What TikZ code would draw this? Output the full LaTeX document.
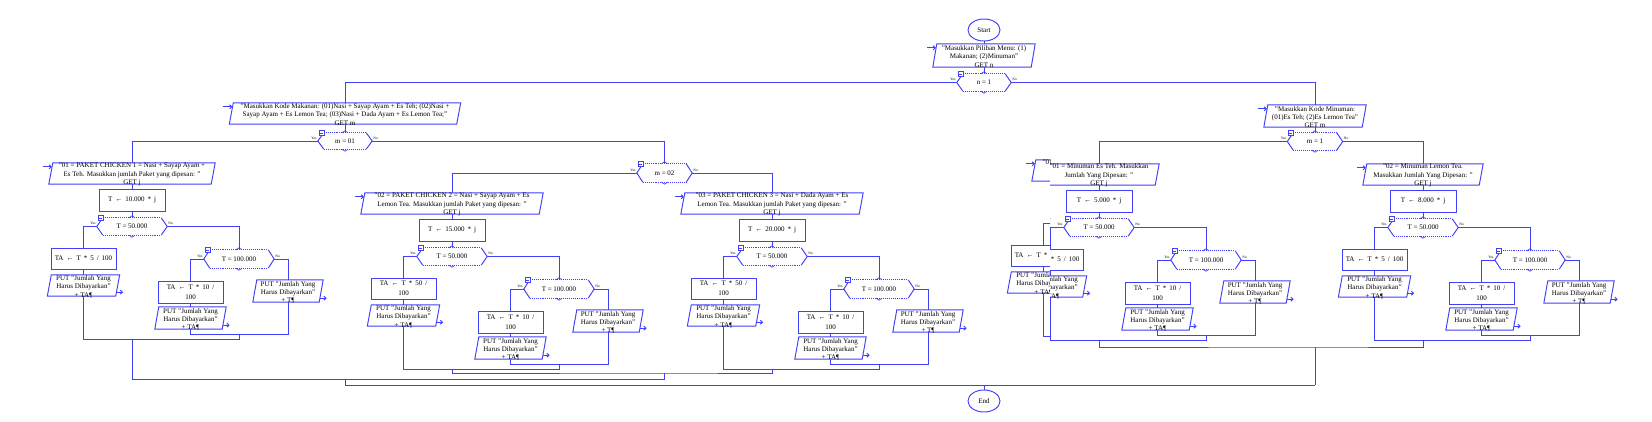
\documentclass[tikz,border=0pt]{standalone}
\usepackage{fontspec}
\setmainfont{Liberation Serif}
\usetikzlibrary{shapes.geometric,arrows.meta,calc}
\definecolor{fc}{RGB}{64,64,250}
\newcommand\fsn{\fontsize{7}{8.2}\selectfont}
\newcommand\fsbx{\fontsize{7}{10}\selectfont\spaceskip=3pt\relax}
\newcommand\fstn{\fontsize{3.6}{4}\selectfont}
\tikzset{
 ln/.style={draw=fc, line width=0.95pt},
 sh/.style={draw=fc, line width=0.95pt, fill=white},
 boxn/.style={sh, rectangle, inner sep=0pt, align=center, font=\fsbx},
 ghost/.style={rectangle, inner sep=0pt, draw=none},
 txt/.style={inner sep=0pt, align=center, font=\fsn},
 ylab/.style={inner sep=0pt, font=\fstn},
 arr/.style={ln, -{Straight Barb[length=2.2pt,width=4pt]}},
}
\newcommand\hexd[1]{%
 \draw[ln] ([xshift=6pt]#1.north west) -- (#1.west) -- ([xshift=6pt]#1.south west);
 \draw[ln] ([xshift=-6pt]#1.north east) -- (#1.east) -- ([xshift=-6pt]#1.south east);
 \draw[ln, densely dotted] ([xshift=6pt]#1.north west) -- ([xshift=-6pt]#1.north east);
 \draw[ln, densely dotted] ([xshift=6pt]#1.south west) -- ([xshift=-6pt]#1.south east);
 \draw[ln, line width=0.7pt] ([xshift=-3pt]#1.south) -- ([yshift=-2pt]#1.south) -- ([xshift=3pt]#1.south);
 \draw[ln, line width=0.7pt] ([xshift=-3pt]#1.north) -- ([yshift=2pt]#1.north) -- ([xshift=3pt]#1.north);
 \draw[ln, line width=0.6pt, fill=white] ([xshift=1pt,yshift=-2.5pt]#1.north west) rectangle ([xshift=6pt,yshift=2.5pt]#1.north west);
 \draw[ln, line width=0.5pt] ([xshift=2pt]#1.north west) -- ([xshift=5pt]#1.north west);
 \node[ylab, anchor=south east] (#1-yes) at ([xshift=-1pt,yshift=1.5pt]#1.west) {Yes};
 \node[ylab, anchor=south west] (#1-no) at ([xshift=1pt,yshift=1.5pt]#1.east) {No};
}
\newcommand\pard[1]{%
 \draw[sh] ([xshift=-2pt]#1.south west) -- ([xshift=2pt]#1.north west) -- ([xshift=2pt]#1.north east) -- ([xshift=-2pt]#1.south east) -- cycle;}
\newcommand\inarr[1]{\draw[arr] ([xshift=-8pt,yshift=-4pt]#1.north west) -- ([xshift=1.2pt,yshift=-4pt]#1.north west);}
\newcommand\outarr[1]{\draw[arr] ([xshift=-1.2pt,yshift=4pt]#1.south east) -- ([xshift=5.5pt,yshift=4pt]#1.south east);}
\newcommand\subtree[7]{%
 \node[ghost, minimum width=#4pt, minimum height=21pt] (#1par) at ({#2},{#3+10.5}) {};
 \pard{#1par}\inarr{#1par}
 \node[txt] (#1part) at ([yshift=-1pt]#1par.center) {#5};
 \node[boxn, minimum width=66pt, minimum height=22pt] (#1T) at ({#2},{#3+37}) {#6};
 \node[ghost, minimum width=70pt, minimum height=17pt, font=\fsn] (#1ha) at ({#2},{#3+63.5}) {T = 50.000};
 \hexd{#1ha}
 \node[boxn, minimum width=65pt, minimum height=21pt] (#1ta) at ({#2-48.5},{#3+95.5}) {#7};
 \node[ghost, minimum width=68pt, minimum height=21pt] (#1pa) at ({#2-48.5},{#3+122.5}) {};
 \pard{#1pa}\outarr{#1pa}
 \node[txt] (#1pat) at ([yshift=-1.5pt]#1pa.center) {PUT "Jumlah Yang\\Harus Dibayarkan"\\+ TA¶};
 \node[ghost, minimum width=70pt, minimum height=18pt, font=\fsn] (#1hb) at ({#2+107},{#3+96}) {T = 100.000};
 \hexd{#1hb}
 \node[boxn, minimum width=65pt, minimum height=22pt] (#1tb) at ({#2+58.5},{#3+129}) {TA ← T * 10 /\\100};
 \node[ghost, minimum width=67pt, minimum height=22pt] (#1pb) at ({#2+58.5},{#3+155}) {};
 \pard{#1pb}\outarr{#1pb}
 \node[txt] (#1pbt) at ([yshift=-1.5pt]#1pb.center) {PUT "Jumlah Yang\\Harus Dibayarkan"\\+ TA¶};
 \node[ghost, minimum width=66pt, minimum height=22pt] (#1pc) at ({#2+156},{#3+128}) {};
 \pard{#1pc}\outarr{#1pc}
 \node[txt] (#1pct) at ([yshift=-1.5pt]#1pc.center) {PUT "Jumlah Yang\\Harus Dibayarkan"\\+ T¶};
 \coordinate (#1mi) at ({#2+107},{#3+171});
 \coordinate (#1mo) at ({#2},{#3+176});
 \draw[ln] (#1par.south) -- (#1T.north);
 \draw[ln] (#1T.south) -- (#1ha.north);
 \draw[ln] (#1ha.west) -| (#1ta.north);
 \draw[ln] (#1ta.south) -- (#1pa.north);
 \draw[ln] (#1pa.south) |- (#1mi |- #1mo) -- (#1mi);
 \draw[ln] (#1ha.east) -| (#1hb.north);
 \draw[ln] (#1hb.west) -| (#1tb.north);
 \draw[ln] (#1tb.south) -- (#1pb.north);
 \draw[ln] (#1pb.south) |- (#1mi);
 \draw[ln] (#1hb.east) -| (#1pc.north);
 \draw[ln] (#1pc.south) |- (#1mi);
}
\begin{document}
\begin{tikzpicture}[x=1pt,y=-1pt]
\useasboundingbox (0,0) rectangle (1652,422);
\fill[white] (0,0) rectangle (1652,422);
% top
\node[sh, ellipse, minimum width=32pt, minimum height=22pt, inner sep=0pt, font=\fsn] (start) at (984,30) {Start};
\node[ghost, minimum width=98pt, minimum height=23pt] (p0) at (984,55.5) {};
\pard{p0}\inarr{p0}
\node[txt] (p0t) at ([yshift=-1pt]p0.center) {"Masukkan Pilihan Menu: (1)\\Makanan; (2)Minuman"\\GET n};
\node[ghost, minimum width=54pt, minimum height=17pt, font=\fsn] (h0) at (984,82.5) {n = 1};
\hexd{h0}
% makanan
\node[ghost, minimum width=227pt, minimum height=21pt] (p1) at (345,113.5) {};
\pard{p1}\inarr{p1}
\node[txt] (p1t) at ([yshift=-1pt]p1.center) {"Masukkan Kode Makanan: (01)Nasi + Sayap Ayam + Es Teh; (02)Nasi +\\Sayap Ayam + Es Lemon Tea; (03)Nasi + Dada Ayam + Es Lemon Tea;"\\GET m};
\node[ghost, minimum width=54pt, minimum height=16pt, font=\fsn] (h1) at (345,141) {m = 01};
\hexd{h1}
\node[ghost, minimum width=55pt, minimum height=18pt, font=\fsn] (h3) at (664.5,173) {m = 02};
\hexd{h3}
% minuman
\node[ghost, minimum width=98pt, minimum height=22pt] (p2) at (1315,116) {};
\pard{p2}\inarr{p2}
\node[txt] (p2t) at ([yshift=-1pt]p2.center) {"Masukkan Kode Minuman:\\(01)Es Teh; (2)Es Lemon Tea"\\GET m};
\node[ghost, minimum width=55pt, minimum height=17pt, font=\fsn] (h2) at (1315,141.5) {m = 1};
\hexd{h2}
% subtrees
\subtree{ca}{132}{163}{162}{"01 = PAKET CHICKEN 1 = Nasi + Sayap Ayam +\\Es Teh. Masukkan jumlah Paket yang dipesan: "\\GET j}{T ← 10.000 * j}{TA ← T * 5 / 100}
\subtree{cb}{452}{193}{178}{"02 = PAKET CHICKEN 2 = Nasi + Sayap Ayam + Es\\Lemon Tea. Masukkan jumlah Paket yang dipesan: "\\GET j}{T ← 15.000 * j}{TA ← T * 50 /\\100}
\subtree{cc}{772}{193}{178}{"03 = PAKET CHICKEN 3 = Nasi + Dada Ayam + Es\\Lemon Tea. Masukkan jumlah Paket yang dipesan: "\\GET j}{T ← 20.000 * j}{TA ← T * 50 /\\100}
\begin{scope}
 \clip (0,0) rectangle (1050,422);
 \begin{scope}[shift={(-7,-4)}]
 \subtree{dx}{1099}{164}{116}{"01 = Minuman Es Teh. Masukkan\\Jumlah Yang Dipesan: "\\GET j}{T ← 5.000 * j}{TA ← T * 5 / 100}
 \end{scope}
\end{scope}
\begin{scope}
 \clip (1050,0) rectangle (1652,422);
 \subtree{da}{1099}{164}{116}{"01 = Minuman Es Teh. Masukkan\\Jumlah Yang Dipesan: "\\GET j}{T ← 5.000 * j}{TA ← T * 5 / 100}
\end{scope}
\subtree{db}{1423}{164}{116}{"02 = Minuman Lemon Tea.\\Masukkan Jumlah Yang Dipesan: "\\GET j}{T ← 8.000 * j}{TA ← T * 5 / 100}
\node[sh, ellipse, minimum width=32pt, minimum height=22pt, inner sep=0pt, font=\fsn] (end) at (984,401) {End};
% connectors
\draw[ln] (start.south) -- (p0.north);
\draw[ln] (p0.south) -- (h0.north);
\draw[ln] (h0.west) -| (p1.north);
\draw[ln] (h0.east) -| (p2.north);
\draw[ln] (p1.south) -- (h1.north);
\draw[ln] (h1.west) -| (capar.north);
\draw[ln] (h1.east) -| (h3.north);
\draw[ln] (h3.west) -| (cbpar.north);
\draw[ln] (h3.east) -| (ccpar.north);
\draw[ln] (p2.south) -- (h2.north);
\draw[ln] (h2.west) -| (dapar.north);
\draw[ln] (h2.east) -| (dbpar.north);
% merges
\coordinate (j2) at (664.5,373);
\coordinate (j1) at (345,379);
\coordinate (j0) at (984,385);
\coordinate (jd) at (1315,347);
\draw[ln] (cbmo) |- (j2) -| (ccmo);
\draw[ln] (j2) -- (j2 |- j1);
\draw[ln] (camo) |- (j2 |- j1);
\draw[ln] (j1) -- (j1 |- j0);
\draw[ln] (j1 |- j0) -- (jd |- j0);
\draw[ln] (damo) |- (jd) -| (dbmo);
\draw[ln] (jd) -- (jd |- j0);
\draw[ln] (j0) -- (end.north);
\end{tikzpicture}
\end{document}
